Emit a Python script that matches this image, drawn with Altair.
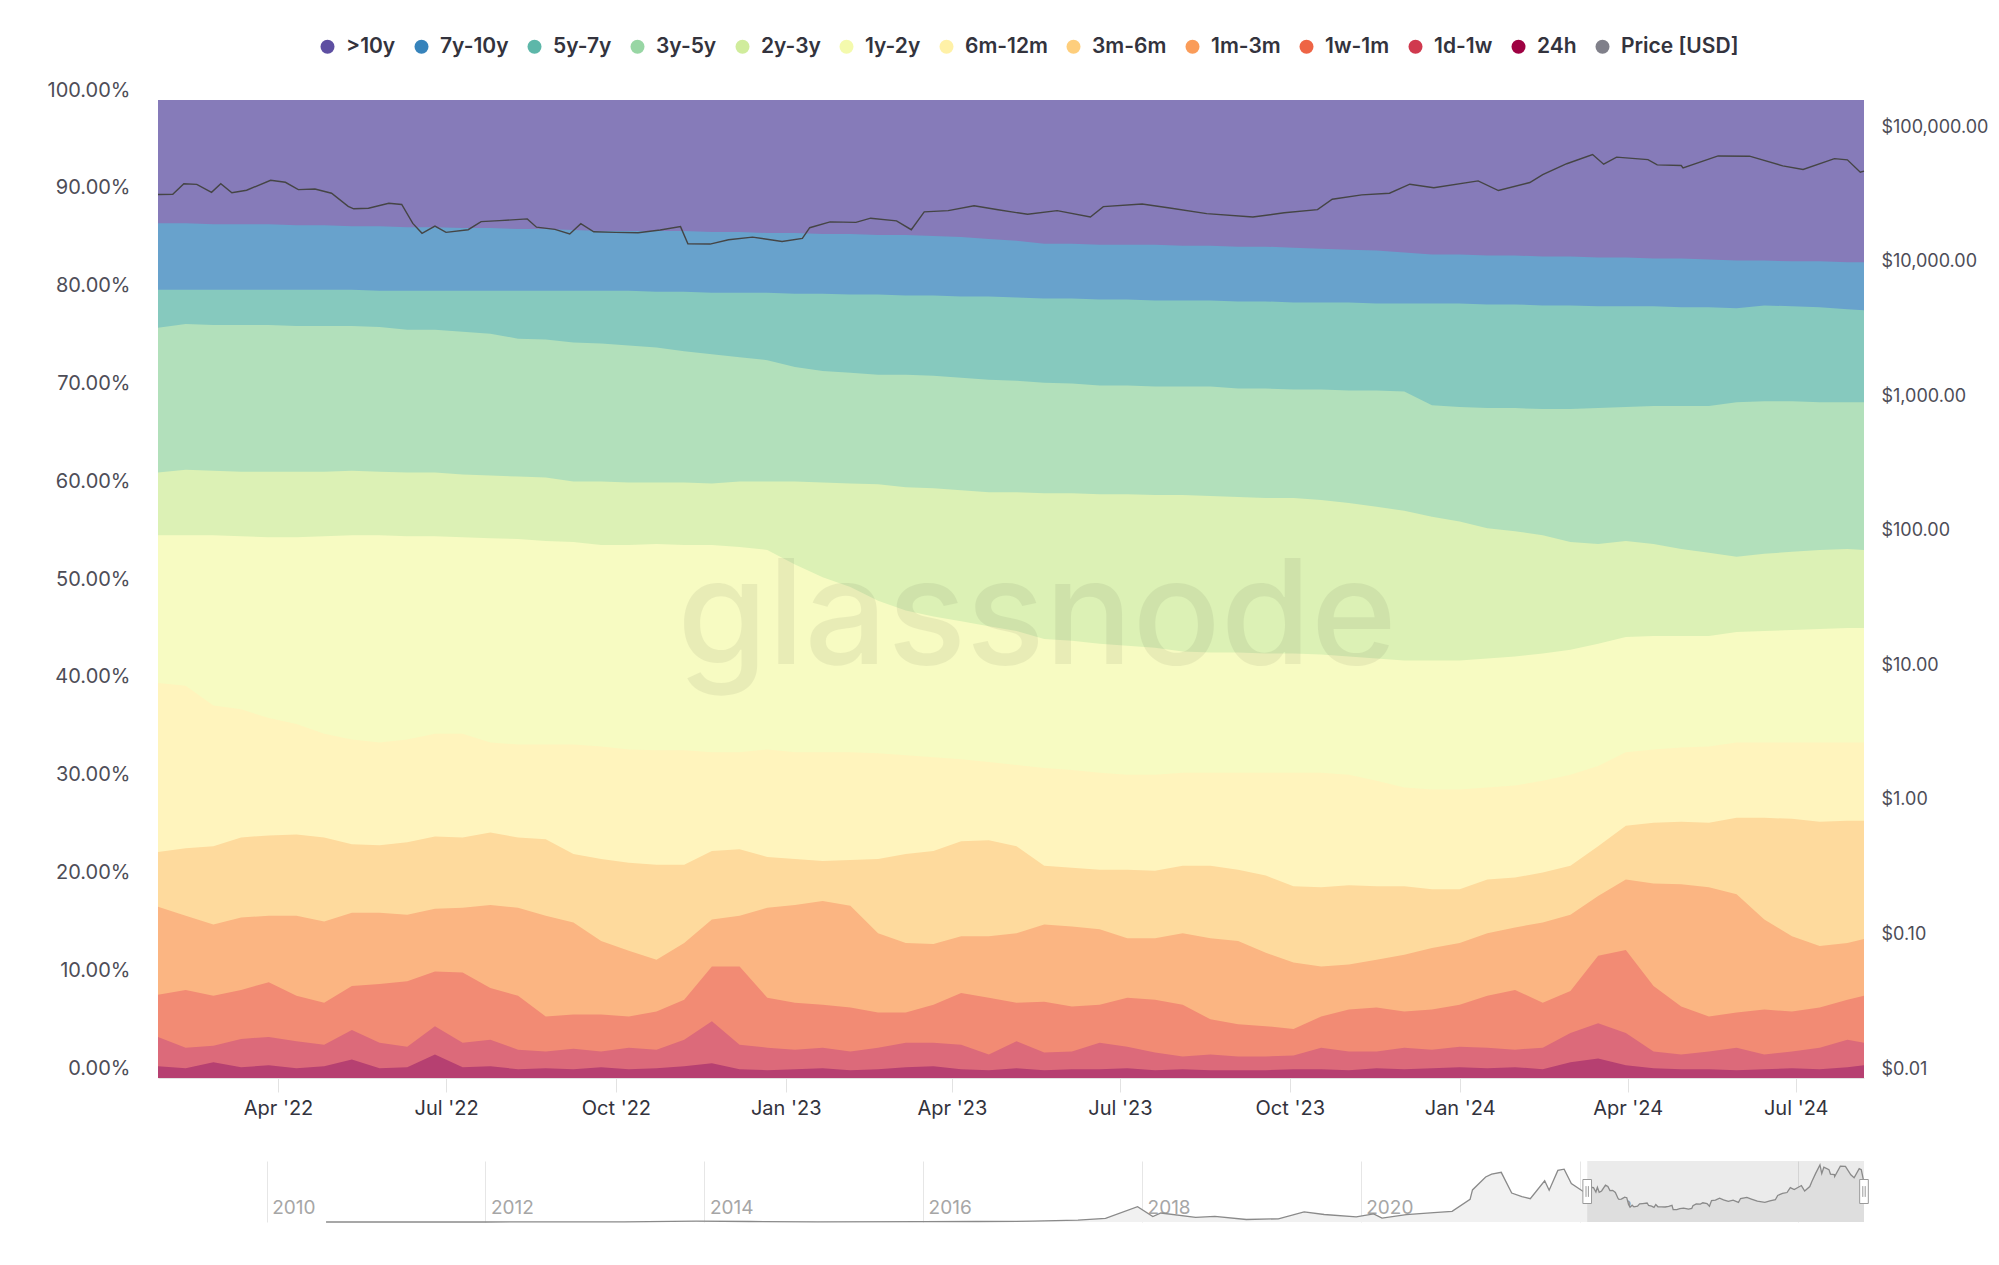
import altair as alt
import pandas as pd

# ---------------- data ----------------
dates = ["2022-01-26", "2022-02-10", "2022-02-25", "2022-03-12", "2022-03-27", "2022-04-11",
         "2022-04-26", "2022-05-11", "2022-05-26", "2022-06-10", "2022-06-25", "2022-07-10",
         "2022-07-25", "2022-08-09", "2022-08-24", "2022-09-08", "2022-09-23", "2022-10-08",
         "2022-10-23", "2022-11-07", "2022-11-22", "2022-12-07", "2022-12-22", "2023-01-06",
         "2023-01-21", "2023-02-05", "2023-02-20", "2023-03-07", "2023-03-22", "2023-04-06",
         "2023-04-21", "2023-05-06", "2023-05-21", "2023-06-05", "2023-06-20", "2023-07-05",
         "2023-07-20", "2023-08-04", "2023-08-19", "2023-09-03", "2023-09-18", "2023-10-03",
         "2023-10-18", "2023-11-02", "2023-11-17", "2023-12-02", "2023-12-17", "2024-01-01",
         "2024-01-16", "2024-01-31", "2024-02-15", "2024-03-01", "2024-03-16", "2024-03-31",
         "2024-04-15", "2024-04-30", "2024-05-15", "2024-05-30", "2024-06-14", "2024-06-29",
         "2024-07-14", "2024-07-29", "2024-08-07"]

# cumulative upper edge (in %) of each age band, bottom band first
top_24h = [1.2, 1.0, 1.6, 1.1, 1.3, 1.0, 1.2, 1.9, 1.0, 1.1, 2.4, 1.1, 1.2, 0.9, 1.0, 0.9, 1.1, 0.9, 1.0, 1.2, 1.5,
           0.9, 0.8, 0.9, 1.0, 0.8, 0.9, 1.1, 1.2, 0.9, 0.8, 1.0, 0.8, 0.9, 0.9, 1.0, 0.8, 0.9, 0.8, 0.8, 0.8, 0.9,
           0.9, 0.8, 1.0, 0.9, 1.0, 1.1, 1.0, 1.1, 0.9, 1.6, 2.0, 1.3, 1.0, 0.9, 0.9, 0.8, 0.9, 1.0, 0.9, 1.1, 1.3]
top_1d_1w = [4.2, 3.1, 3.3, 4.0, 4.2, 3.75, 3.4, 4.9, 3.6, 3.2, 5.3, 3.6, 3.9, 2.9, 2.7, 3.0, 2.7, 3.1, 2.9, 3.9, 5.8,
             3.4, 3.1, 2.9, 3.1, 2.7, 3.1, 3.6, 3.6, 3.4, 2.4, 3.75, 2.6, 2.7, 3.6, 3.2, 2.6, 2.2, 2.4, 2.2, 2.2, 2.3,
             3.1, 2.7, 2.7, 3.1, 2.9, 3.2, 3.1, 2.9, 3.1, 4.6, 5.6, 4.6, 2.7, 2.4, 2.7, 3.1, 2.4, 2.7, 3.1, 3.9, 3.6]
top_1w_1m = [8.5, 9.0, 8.4, 9.0, 9.8, 8.4, 7.7, 9.4, 9.6, 9.9, 10.9, 10.8, 9.2, 8.4, 6.3, 6.5, 6.5, 6.3, 6.8, 8.0, 11.4,
             11.4, 8.2, 7.7, 7.5, 7.2, 6.7, 6.7, 7.5, 8.7, 8.2, 7.7, 7.8, 7.3, 7.5, 8.2, 8.0, 7.5, 6.0, 5.5, 5.3, 5.0,
             6.3, 7.0, 7.2, 6.8, 7.0, 7.5, 8.4, 9.0, 7.7, 8.9, 12.5, 13.1, 9.4, 7.3, 6.3, 6.7, 7.0, 6.8, 7.2, 8.0, 8.4]
top_1m_3m = [17.5, 16.6, 15.7, 16.4, 16.6, 16.6, 16.0, 16.9, 16.9, 16.7, 17.3, 17.4, 17.7, 17.4, 16.6, 15.9, 14.0, 13.0, 12.1, 13.8, 16.2,
             16.6, 17.4, 17.7, 18.1, 17.6, 14.8, 13.8, 13.7, 14.5, 14.5, 14.8, 15.7, 15.5, 15.2, 14.3, 14.3, 14.8, 14.3, 14.0, 12.8, 11.8,
             11.4, 11.6, 12.1, 12.6, 13.3, 13.8, 14.8, 15.4, 15.9, 16.7, 18.6, 20.3, 19.9, 19.8, 19.5, 18.8, 16.2, 14.5, 13.5, 13.8, 14.2]
top_3m_6m = [23.1, 23.5, 23.7, 24.6, 24.8, 24.9, 24.6, 23.9, 23.8, 24.1, 24.7, 24.6, 25.1, 24.6, 24.4, 22.9, 22.4, 22.0, 21.8, 21.8, 23.2,
             23.4, 22.6, 22.4, 22.2, 22.3, 22.4, 22.9, 23.2, 24.2, 24.3, 23.7, 21.7, 21.5, 21.3, 21.3, 21.2, 21.7, 21.7, 21.3, 20.7, 19.6,
             19.5, 19.7, 19.6, 19.6, 19.3, 19.3, 20.3, 20.5, 21.0, 21.7, 23.7, 25.8, 26.1, 26.2, 26.1, 26.6, 26.6, 26.5, 26.2, 26.3, 26.3]
top_6m_12m = [40.4, 40.1, 38.1, 37.7, 36.8, 36.2, 35.2, 34.6, 34.3, 34.6, 35.2, 35.2, 34.3, 34.1, 34.1, 34.1, 33.9, 33.6, 33.5, 33.5, 33.3,
              33.3, 33.6, 33.3, 33.3, 33.3, 33.2, 33.0, 32.8, 32.6, 32.3, 32.0, 31.7, 31.5, 31.2, 31.0, 31.0, 31.2, 31.2, 31.2, 31.2, 31.2,
              31.2, 31.0, 30.4, 29.7, 29.5, 29.5, 29.7, 29.9, 30.4, 31.0, 31.9, 33.3, 33.6, 33.8, 33.9, 34.3, 34.3, 34.3, 34.3, 34.3, 34.3]
top_1y_2y = [55.5, 55.5, 55.5, 55.4, 55.3, 55.3, 55.4, 55.5, 55.5, 55.4, 55.4, 55.3, 55.2, 55.1, 54.9, 54.8, 54.5, 54.5, 54.6, 54.5, 54.5,
             54.3, 54.0, 52.5, 51.2, 50.2, 48.8, 47.8, 47.2, 46.7, 46.2, 45.7, 44.9, 44.7, 44.4, 44.2, 44.0, 43.6, 43.5, 43.5, 43.4, 43.4,
             43.3, 43.1, 42.9, 42.7, 42.7, 42.7, 42.9, 43.1, 43.4, 43.8, 44.4, 45.1, 45.2, 45.2, 45.2, 45.6, 45.7, 45.8, 45.9, 46.0, 46.0]
top_2y_3y = [61.9, 62.2, 62.1, 62.0, 62.0, 62.0, 62.0, 62.1, 62.0, 61.9, 61.9, 61.7, 61.6, 61.5, 61.4, 61.0, 61.0, 60.9, 60.9, 60.9, 60.8,
             61.0, 61.0, 61.0, 60.9, 60.8, 60.7, 60.4, 60.3, 60.1, 59.9, 59.9, 59.8, 59.8, 59.7, 59.7, 59.6, 59.6, 59.5, 59.4, 59.3, 59.3,
             59.1, 58.8, 58.4, 58.0, 57.4, 56.9, 56.2, 55.9, 55.5, 54.8, 54.6, 54.9, 54.6, 54.1, 53.7, 53.3, 53.6, 53.8, 54.0, 54.1, 54.0]
top_3y_5y = [76.7, 77.1, 77.0, 77.0, 77.0, 76.9, 76.9, 76.9, 76.8, 76.5, 76.5, 76.3, 76.1, 75.6, 75.5, 75.2, 75.1, 74.9, 74.7, 74.3, 74.0,
             73.7, 73.4, 72.7, 72.3, 72.1, 71.9, 71.9, 71.8, 71.6, 71.4, 71.3, 71.1, 71.0, 70.8, 70.8, 70.7, 70.7, 70.7, 70.5, 70.5, 70.4,
             70.4, 70.3, 70.3, 70.2, 68.8, 68.6, 68.5, 68.5, 68.4, 68.4, 68.5, 68.6, 68.7, 68.7, 68.7, 69.1, 69.2, 69.2, 69.1, 69.1, 69.1]
top_5y_7y = [80.6, 80.6, 80.6, 80.6, 80.6, 80.6, 80.6, 80.6, 80.5, 80.5, 80.5, 80.5, 80.5, 80.5, 80.5, 80.5, 80.5, 80.5, 80.4, 80.4, 80.3,
             80.3, 80.3, 80.2, 80.2, 80.1, 80.1, 80.0, 80.0, 79.9, 79.9, 79.8, 79.7, 79.7, 79.6, 79.6, 79.5, 79.5, 79.5, 79.4, 79.4, 79.3,
             79.3, 79.3, 79.2, 79.2, 79.2, 79.2, 79.1, 79.1, 79.0, 79.0, 78.9, 78.9, 78.9, 78.8, 78.8, 78.7, 79.0, 78.9, 78.8, 78.6, 78.5]
top_7y_10y = [87.4, 87.4, 87.3, 87.3, 87.3, 87.2, 87.2, 87.1, 87.1, 87.0, 87.0, 86.9, 86.9, 86.8, 86.8, 86.7, 86.6, 86.6, 86.6, 86.6, 86.5,
              86.5, 86.4, 86.4, 86.3, 86.3, 86.2, 86.2, 86.1, 86.0, 85.8, 85.6, 85.3, 85.3, 85.2, 85.2, 85.2, 85.1, 85.1, 85.0, 85.0, 84.9,
              84.8, 84.7, 84.6, 84.4, 84.2, 84.2, 84.1, 84.1, 84.0, 84.0, 83.9, 83.9, 83.8, 83.8, 83.7, 83.6, 83.6, 83.5, 83.5, 83.4, 83.4]
top_10y_plus = [100.0] * len(dates)

# BTC price shown on the right (log) axis
price_dates = ["2022-01-26", "2022-02-03", "2022-02-09", "2022-02-16", "2022-02-24", "2022-03-01", "2022-03-07",
               "2022-03-15", "2022-03-28", "2022-04-05", "2022-04-12", "2022-04-21", "2022-04-30", "2022-05-09",
               "2022-05-12", "2022-05-20", "2022-05-31", "2022-06-07", "2022-06-13", "2022-06-18", "2022-06-25",
               "2022-07-01", "2022-07-13", "2022-07-20", "2022-07-30", "2022-08-14", "2022-08-19", "2022-08-29",
               "2022-09-06", "2022-09-12", "2022-09-19", "2022-10-01", "2022-10-13", "2022-10-25", "2022-11-05",
               "2022-11-09", "2022-11-21", "2022-12-01", "2022-12-14", "2022-12-30", "2023-01-10", "2023-01-14",
               "2023-01-25", "2023-02-08", "2023-02-16", "2023-03-02", "2023-03-10", "2023-03-17", "2023-03-30",
               "2023-04-13", "2023-04-26", "2023-05-12", "2023-05-28", "2023-06-15", "2023-06-22", "2023-07-13",
               "2023-07-28", "2023-08-17", "2023-09-11", "2023-09-28", "2023-10-16", "2023-10-24", "2023-11-09",
               "2023-11-24", "2023-12-05", "2023-12-18", "2024-01-11", "2024-01-22", "2024-02-08", "2024-02-15",
               "2024-02-28", "2024-03-13", "2024-03-19", "2024-03-26", "2024-04-12", "2024-04-17", "2024-04-30",
               "2024-05-01", "2024-05-20", "2024-06-06", "2024-06-24", "2024-07-05", "2024-07-22", "2024-07-29",
               "2024-08-05", "2024-08-07"]
price_usd = [36900, 37000, 44400, 43900, 38300, 44400, 38000,
             39700, 47100, 45500, 40100, 40500, 37700, 30100,
             28900, 29200, 31800, 31100, 22500, 19000, 21500,
             19300, 20200, 23200, 23600, 24300, 21100, 20300,
             18800, 22400, 19500, 19300, 19200, 20100, 21300,
             15900, 15800, 17000, 17800, 16500, 17400, 20900,
             23100, 22900, 24600, 23500, 20200, 27400, 28000,
             30400, 28400, 26300, 28000, 25100, 30000, 31400,
             29300, 26600, 25100, 27000, 28500, 34000, 36700,
             37700, 44000, 41400, 46600, 39500, 45300, 51900,
             62500, 73100, 62000, 70000, 67000, 61300, 60600,
             58200, 71400, 71100, 60300, 56600, 68200, 66800,
             54000, 55000]

# navigator: full price history (linear)
hist_dates = ["2010-07-18", "2011-06-08", "2012-01-01", "2013-04-09", "2013-12-04", "2014-06-01", "2015-01-14",
              "2016-01-01", "2016-07-01", "2017-01-01", "2017-06-01", "2017-09-01", "2017-12-17", "2018-02-06",
              "2018-03-05", "2018-06-29", "2018-09-01", "2018-12-15", "2019-04-01", "2019-06-26", "2019-09-01",
              "2019-12-17", "2020-02-13", "2020-03-12", "2020-06-01", "2020-09-01", "2020-11-01", "2020-12-31",
              "2021-01-08", "2021-02-21", "2021-03-13", "2021-04-14", "2021-05-19", "2021-06-22", "2021-07-20",
              "2021-09-06", "2021-09-21", "2021-10-20", "2021-11-10", "2021-12-04", "2022-01-24"]
hist_price = [0.09, 30, 5, 230, 1150, 650, 180,
              430, 670, 1000, 2400, 4700, 19500, 6900,
              11500, 5900, 7200, 3200, 4100, 12900, 9600,
              6600, 10300, 4900, 9500, 11900, 13700, 29000,
              41000, 57500, 61200, 63500, 37000, 32500, 29800,
              52700, 40600, 66000, 67500, 49200, 36200]

band_names = ["24h", "1d-1w", "1w-1m", "1m-3m", "3m-6m", "6m-12m", "1y-2y", "2y-3y", "3y-5y", "5y-7y", "7y-10y", ">10y"]
band_tops = [top_24h, top_1d_1w, top_1w_1m, top_1m_3m, top_3m_6m, top_6m_12m,
             top_1y_2y, top_2y_3y, top_3y_5y, top_5y_7y, top_7y_10y, top_10y_plus]
band_colors = ["#9e0142", "#d0394e", "#ee6445", "#fa9c59", "#fece7c", "#fff1a7",
               "#f4faad", "#d0ec9c", "#98d6a4", "#5db7a9", "#3683bb", "#5e4fa2"]
price_name = "Price [USD]"
price_legend_color = "#80808a"
x_tick_months = [(2022, 4), (2022, 7), (2022, 10), (2023, 1), (2023, 4), (2023, 7),
                 (2023, 10), (2024, 1), (2024, 4), (2024, 7)]
pct_ticks = [0, 10, 20, 30, 40, 50, 60, 70, 80, 90, 100]
usd_ticks = [0.01, 0.1, 1, 10, 100, 1000, 10000, 100000]
nav_years = [2010, 2012, 2014, 2016, 2018, 2020, 2022, 2024]
sel_start, sel_end = "2022-01-26", "2024-08-07"

FONT = "Inter"
W, H = 1706, 978
NAV_H = 61


def blend(hexc, a=0.75):
    r, g, b = (int(hexc[i:i + 2], 16) for i in (1, 3, 5))
    return "#%02x%02x%02x" % tuple(round(c * a + 255 * (1 - a)) for c in (r, g, b))


# ---------------- tables ----------------
band_df = pd.DataFrame({"date": dates})
for i, tops in enumerate(band_tops):
    band_df[f"b{i}"] = tops

price_df = pd.DataFrame({"date": price_dates, "price": price_usd})
nav_df = pd.DataFrame({"date": hist_dates + price_dates, "price": hist_price + price_usd})
legend_names = band_names[::-1] + [price_name]
legend_colors = band_colors[::-1] + [price_legend_color]
legend_df = pd.DataFrame({"name": legend_names, "date": [dates[0]] * len(legend_names),
                          "v": [50.0] * len(legend_names)})

x_domain = [alt.DateTime(year=2022, month=1, date=26), alt.DateTime(year=2024, month=8, date=7)]
x_enc = alt.X(
    "date:T",
    scale=alt.Scale(domain=x_domain),
    axis=alt.Axis(values=[alt.DateTime(year=y, month=m, date=1) for y, m in x_tick_months],
                  format="%b '%y", title=None, grid=False, labelFlush=False,
                  labelFont=FONT, labelFontSize=20, labelColor="#33333d",
                  tickColor="#e2e2e2", tickSize=14, labelPadding=6,
                  domainColor="#e2e2e2"),
)
y_axis = alt.Axis(values=pct_ticks, labelExpr="format(datum.value, '.2f') + '%'",
                  title=None, grid=False, ticks=False, tickSize=0, domain=False,
                  labelPadding=28, labelBaseline="bottom", labelFont=FONT,
                  labelFontSize=20, labelColor="#4d4d57")
y_scale = alt.Scale(domain=[0, 100], nice=False, zero=True)

area_layers = []
for i in range(len(band_names) - 1, -1, -1):
    area_layers.append(
        alt.Chart(band_df).mark_area(color=blend(band_colors[i]), interpolate="linear").encode(
            x=x_enc,
            y=alt.Y(f"b{i}:Q", scale=y_scale, axis=y_axis),
            y2=alt.datum(0),
        )
    )

legend_layer = alt.Chart(legend_df).mark_circle(opacity=0).encode(
    x=x_enc,
    y=alt.Y("v:Q", scale=y_scale, axis=y_axis),
    color=alt.Color("name:N", scale=alt.Scale(domain=legend_names, range=legend_colors),
                    legend=alt.Legend(orient="none", legendX=159, legendY=-64,
                                      direction="horizontal", title=None,
                                      labelFont=FONT, labelFontSize=21, labelFontWeight=600,
                                      labelColor="#33333d", symbolType="circle",
                                      symbolSize=196, symbolOpacity=1, symbolStrokeWidth=0,
                                      labelOffset=8, columnPadding=15)),
)

watermark = alt.Chart(pd.DataFrame({"t": ["glassnode"]})).mark_text(
    font=FONT, fontSize=146, fontWeight=500, color="#000000", opacity=0.055,
    align="center", baseline="alphabetic",
).encode(text="t:N", x=alt.value(879), y=alt.value(564))

left = alt.layer(*area_layers, legend_layer, watermark)

price_line = alt.Chart(price_df).mark_line(color="#454545", strokeWidth=1.4).encode(
    x=x_enc,
    y=alt.Y("price:Q",
            scale=alt.Scale(type="log", domain=[0.01, 186000], nice=False),
            axis=alt.Axis(orient="right", values=usd_ticks, format="$,.2f", title=None,
                          grid=False, ticks=False, tickSize=0, domain=False,
                          labelPadding=17, labelBaseline="bottom", labelFont=FONT,
                          labelFontSize=18, labelColor="#4d4d57")),
)

main = alt.layer(left, price_line).resolve_scale(y="independent").properties(width=W, height=H)

# ---------------- navigator ----------------
nav_x = alt.X(
    "date:T",
    scale=alt.Scale(domain=[alt.DateTime(year=2009, month=1, date=3),
                            alt.DateTime(year=2024, month=8, date=7)]),
    axis=alt.Axis(values=[alt.DateTime(year=y, month=1, date=1) for y in nav_years],
                  format="%Y", title=None, grid=True, gridColor="#e6e6e6", ticks=False,
                  domain=False, labelAlign="left", labelBaseline="bottom", labelPadding=-5,
                  labelOffset=5, labelFont=FONT, labelFontSize=19, labelColor="#a6a6a6",
                  labelFlush=False),
)
nav_y = alt.Y("price:Q", scale=alt.Scale(domain=[0, 78000], nice=False), axis=None)

nav_area = alt.Chart(nav_df).mark_area(color="#f1f1f1").encode(x=nav_x, y=nav_y)
sel_df = pd.DataFrame({"start": [sel_start], "end": [sel_end]})
nav_sel = alt.Chart(sel_df).mark_rect(color="#000000", opacity=0.08).encode(
    x=alt.X("start:T"), x2="end:T")
nav_line = alt.Chart(nav_df).mark_line(color="#8a8a8a", strokeWidth=1.3).encode(x=nav_x, y=nav_y)
handle_df = pd.DataFrame({"date": [sel_start, sel_end]})
handle_path = "M-0.36,-1 L0.36,-1 L0.36,1 L-0.36,1 Z M-0.1,-0.45 L-0.1,0.45 M0.1,-0.45 L0.1,0.45"
nav_handles = alt.Chart(handle_df).mark_point(
    shape=handle_path, size=576, filled=True, fill="#ffffff", stroke="#9a9a9a",
    strokeWidth=1, opacity=1,
).encode(x=alt.X("date:T"), y=alt.datum(39000))

nav = alt.layer(nav_area, nav_sel, nav_line, nav_handles).properties(width=W, height=NAV_H)

chart = alt.vconcat(main, nav, spacing=43).properties(
    padding={"left": 39, "top": 28, "right": 0, "bottom": 0},
    background="#ffffff",
).configure_view(stroke=None)

chart.save("out.html", embed_options={"renderer": "svg", "actions": False})
